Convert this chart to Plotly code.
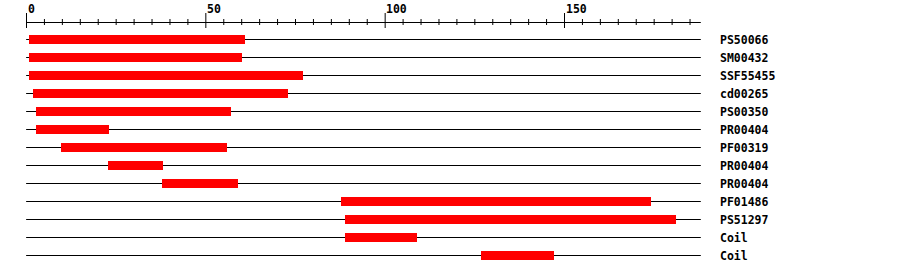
import plotly.graph_objects as go

# ---- data ----
labels = ["PS50066", "SM00432", "SSF55455", "cd00265", "PS00350", "PR00404",
          "PF00319", "PR00404", "PR00404", "PF01486", "PS51297", "Coil", "Coil"]
starts = [1, 1, 1, 2, 3, 3, 10, 23, 38, 88, 89, 89, 127]
ends = [61, 60, 77, 73, 57, 23, 56, 38, 59, 174, 181, 109, 147]
seq_length = 188
major_ticks = [0, 50, 100, 150]
minor_step = 5

# ---- layout constants (pixel mapping) ----
W, H = 900, 274
X0_PX, PX_PER_UNIT = 26.5, 3.5867
ROW0_PX, ROW_PX = 39.5, 18.0

def y_of_px(p):
    return (p - ROW0_PX) / ROW_PX

x_range = [-X0_PX / PX_PER_UNIT, (W - X0_PX) / PX_PER_UNIT]
y_range = [y_of_px(H), y_of_px(0)]

FONT = "DejaVu Sans Mono"
rows = list(range(len(labels)))

fig = go.Figure()

# row base lines (below the bars)
shapes = []
for r in rows:
    shapes.append(dict(type="line", xref="x", yref="y", x0=-0.1, x1=seq_length, y0=r, y1=r,
                       line=dict(color="black", width=1), layer="below"))

# bars
fig.add_trace(go.Bar(orientation="h", y=rows, base=[s - 0.3 for s in starts],
                     x=[e - s + 0.3 for s, e in zip(starts, ends)],
                     width=0.5, marker=dict(color="#ff0000", line=dict(width=0)),
                     showlegend=False, hoverinfo="skip"))

# ruler axis
axis_y = y_of_px(22.5)
fig.add_trace(go.Scatter(x=[0, seq_length], y=[axis_y, axis_y], mode="lines",
                         line=dict(color="black", width=1), hoverinfo="skip", showlegend=False))
mx, my = [], []
for t in range(0, seq_length + 1, minor_step):
    if t in major_ticks:
        mx += [t, t, None]
        my += [y_of_px(13), y_of_px(28), None]
    else:
        mx += [t, t, None]
        my += [y_of_px(19), y_of_px(25), None]
fig.add_trace(go.Scatter(x=mx, y=my, mode="lines", line=dict(color="black", width=1),
                         hoverinfo="skip", showlegend=False))

annotations = []
for t in major_ticks:
    annotations.append(dict(x=t, y=y_of_px(8.5), xref="x", yref="y", text="<b>%d</b>" % t,
                            showarrow=False, xanchor="left", yanchor="middle", xshift=-1,
                            font=dict(family=FONT, size=11.5, color="black")))
label_x = (719 - X0_PX) / PX_PER_UNIT
for r, lab in zip(rows, labels):
    annotations.append(dict(x=label_x, y=r, xref="x", yref="y", text="<b>%s</b>" % lab,
                            showarrow=False, xanchor="left", yanchor="middle", xshift=-1,
                            font=dict(family=FONT, size=11.5, color="black")))

fig.update_layout(
    width=W, height=H, margin=dict(l=0, r=0, t=0, b=0, pad=0),
    paper_bgcolor="white", plot_bgcolor="white",
    xaxis=dict(range=x_range, visible=False, fixedrange=True),
    yaxis=dict(range=y_range, visible=False, fixedrange=True),
    annotations=annotations, shapes=shapes, bargap=0, showlegend=False,
)

fig.write_html("out.html", config={"displayModeBar": False})
